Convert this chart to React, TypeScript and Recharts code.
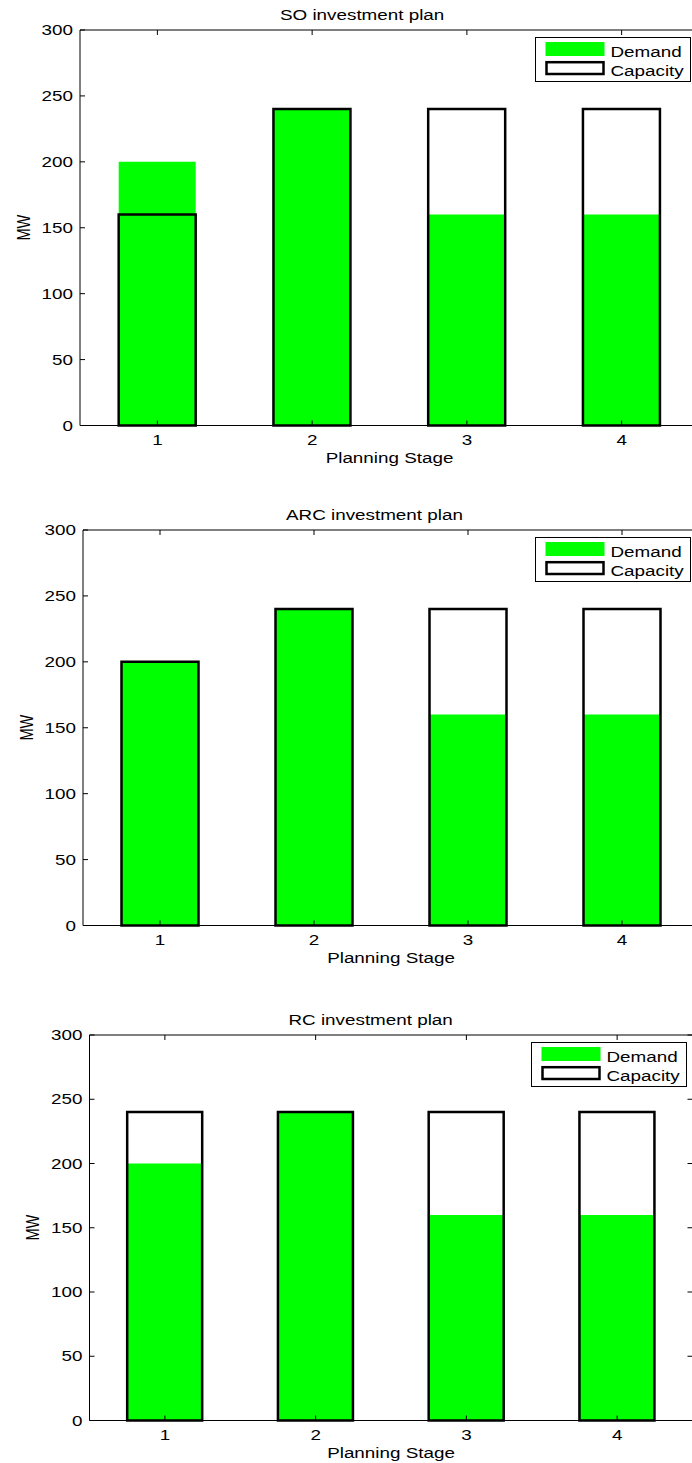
import React from "react";
import { BarChart, Bar, XAxis, YAxis } from "recharts";

// planning stages and MW per stage for each investment plan
const STAGES = ["1", "2", "3", "4"];
const SO_DEMAND = [200, 240, 160, 160];
const SO_CAPACITY = [160, 240, 240, 240];
const ARC_DEMAND = [200, 240, 160, 160];
const ARC_CAPACITY = [200, 240, 240, 240];
const RC_DEMAND = [200, 240, 160, 160];
const RC_CAPACITY = [240, 240, 240, 240];
const MW_TICKS = [0, 50, 100, 150, 200, 250, 300];

const FONT = '"Liberation Sans", Arial, Helvetica, sans-serif';
const FONT_SIZE = 14.5;
const STRETCH = 1.3;
const GREEN = "#00ff00";
const TICK_LEN = 5;

type TxtProps = {
  x: number;
  y: number;
  anchor?: "start" | "middle" | "end";
  rotate?: boolean;
  children: React.ReactNode;
};

// text is drawn slightly wide, like the exported figure
function Txt({ x, y, anchor = "start", rotate = false, children }: TxtProps) {
  const t = `translate(${x},${y}) scale(${STRETCH},1)${rotate ? " rotate(-90)" : ""}`;
  return (
    <text transform={t} textAnchor={anchor} fontFamily={FONT} fontSize={FONT_SIZE} fill="#000">
      {children}
    </text>
  );
}

// ticks point into the plot box, so they are drawn here instead of by tickLine
const bottomTick = (axisY: number) => (props: any) => {
  const { x, payload } = props;
  return (
    <g>
      <line x1={x} x2={x} y1={axisY} y2={axisY - TICK_LEN} stroke="#000" />
      <Txt x={x} y={axisY + 19} anchor="middle">
        {payload.value}
      </Txt>
    </g>
  );
};

const topTick = (axisY: number) => (props: any) => {
  const { x } = props;
  return <line x1={x} x2={x} y1={axisY} y2={axisY + TICK_LEN} stroke="#000" />;
};

const leftTick = (axisX: number) => (props: any) => {
  const { y, payload } = props;
  return (
    <g>
      <line x1={axisX} x2={axisX + TICK_LEN} y1={y} y2={y} stroke="#000" />
      <Txt x={axisX - 7} y={y + 5} anchor="end">
        {payload.value}
      </Txt>
    </g>
  );
};

const rightTick = (axisX: number) => (props: any) => {
  const { y } = props;
  return <line x1={axisX} x2={axisX - TICK_LEN} y1={y} y2={y} stroke="#000" />;
};

function PlanLegend({ x, y }: { x: number; y: number }) {
  return (
    <svg
      width={157}
      height={46}
      style={{ position: "absolute", left: x, top: y, overflow: "visible" }}
    >
      <rect x={0.5} y={0.5} width={155} height={44} fill="#fff" stroke="#000" strokeWidth={1} />
      <rect x={10.5} y={5} width={59} height={14} fill={GREEN} />
      <rect x={11.5} y={25.2} width={57} height={11.8} fill="#fff" stroke="#000" strokeWidth={2.5} />
      <Txt x={75.5} y={19.5}>Demand</Txt>
      <Txt x={75.5} y={38.5}>Capacity</Txt>
    </svg>
  );
}

type Layout = {
  left: number;
  right: number;
  top: number;
  bottom: number;
  titleX: number;
  legendX: number;
  legendY: number;
};

type PanelProps = {
  title: string;
  demand: number[];
  capacity: number[];
  layout: Layout;
};

function PlanPanel({ title, demand, capacity, layout }: PanelProps) {
  const { left, right, top, bottom, titleX } = layout;
  const chartTop = top - 30;
  const width = right + 10;
  const height = bottom - chartTop + 50;
  const localTop = 30;
  const localBottom = height - 50;
  const data = STAGES.map((stage, i) => ({
    stage,
    demand: demand[i],
    capacity: capacity[i],
  }));

  return (
    <>
      <div style={{ position: "absolute", left: 0, top: chartTop }}>
        <BarChart
          width={width}
          height={height}
          data={data}
          margin={{ top: 29, right: 9, bottom: 49, left: 0 }}
          barCategoryGap="25%"
        >
          <XAxis
            xAxisId="bottom"
            dataKey="stage"
            height={1}
            interval={0}
            stroke="#000"
            tickLine={false}
            tick={bottomTick(localBottom)}
            label={{
              content: () => (
                <Txt x={(left + right) / 2} y={localBottom + 37} anchor="middle">
                  Planning Stage
                </Txt>
              ),
            }}
          />
          <XAxis
            xAxisId="top"
            orientation="top"
            dataKey="stage"
            height={1}
            interval={0}
            stroke="#000"
            tickLine={false}
            tick={topTick(localTop)}
            label={{
              content: () => (
                <Txt x={titleX} y={localTop - 10.5}>
                  {title}
                </Txt>
              ),
            }}
          />
          <YAxis
            yAxisId="left"
            type="number"
            width={left}
            domain={[0, 300]}
            ticks={MW_TICKS}
            interval={0}
            stroke="#000"
            tickLine={false}
            tick={leftTick(left)}
            label={{
              content: () => (
                <Txt x={left - 50.5} y={(localTop + localBottom) / 2} anchor="middle" rotate>
                  MW
                </Txt>
              ),
            }}
          />
          <YAxis
            yAxisId="right"
            orientation="right"
            type="number"
            width={1}
            domain={[0, 300]}
            ticks={MW_TICKS}
            interval={0}
            stroke="#000"
            tickLine={false}
            tick={rightTick(right)}
          />
          <Bar
            dataKey="demand"
            xAxisId="bottom"
            yAxisId="left"
            fill={GREEN}
            isAnimationActive={false}
          />
          <Bar
            dataKey="capacity"
            xAxisId="top"
            yAxisId="right"
            fill="none"
            stroke="#000"
            strokeWidth={2.5}
            isAnimationActive={false}
          />
        </BarChart>
      </div>
      <PlanLegend x={layout.legendX} y={layout.legendY} />
    </>
  );
}

export default function App() {
  return (
    <div
      style={{
        position: "absolute",
        left: 0,
        top: 0,
        width: 692,
        height: 1463,
        overflow: "hidden",
        background: "#fff",
      }}
    >
      <PlanPanel
        title="SO investment plan"
        demand={SO_DEMAND}
        capacity={SO_CAPACITY}
        layout={{ left: 80, right: 699, top: 29.5, bottom: 425, titleX: 280, legendX: 535, legendY: 37 }}
      />
      <PlanPanel
        title="ARC investment plan"
        demand={ARC_DEMAND}
        capacity={ARC_CAPACITY}
        layout={{ left: 83, right: 699, top: 529.5, bottom: 925, titleX: 286, legendX: 535, legendY: 537 }}
      />
      <PlanPanel
        title="RC investment plan"
        demand={RC_DEMAND}
        capacity={RC_CAPACITY}
        layout={{ left: 89.5, right: 692.5, top: 1034.5, bottom: 1420, titleX: 288.5, legendX: 531, legendY: 1042 }}
      />
    </div>
  );
}
